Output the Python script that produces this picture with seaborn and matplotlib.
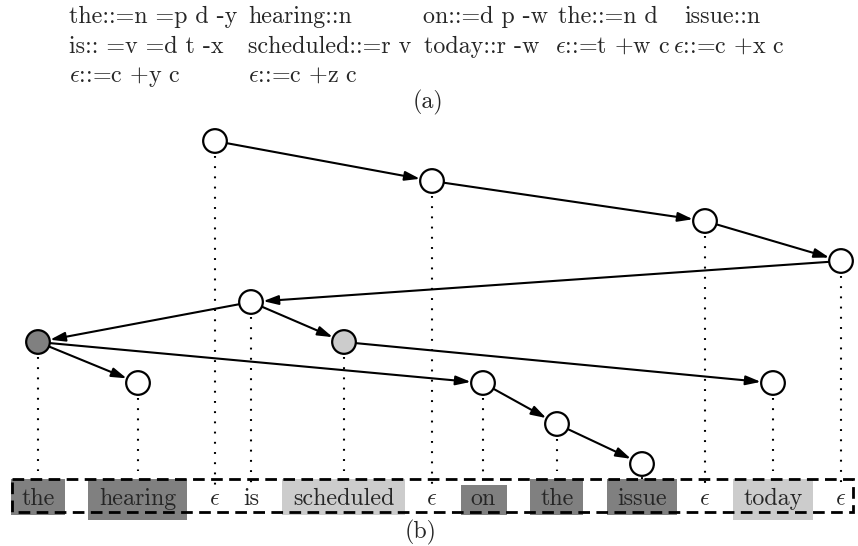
import matplotlib
matplotlib.use("Agg")
import matplotlib.pyplot as plt
from matplotlib.patches import Rectangle
import seaborn as sns
import pandas as pd

sns.set_style("white")
plt.rcParams["font.family"] = ["cmr10", "DejaVu Serif"]
plt.rcParams["mathtext.fontset"] = "cm"
plt.rcParams["axes.unicode_minus"] = False

# ---------------- data ----------------
# lexicon table (a): rows of (text, left x)
lex_row1 = ["the::=n =p d -y", "hearing::n", "on::=d p -w", "the::=n d", "issue::n"]
lex_row2 = ["is:: =v =d t -x", "scheduled::=r v", "today::r -w", r"$\epsilon$::=t +w c", r"$\epsilon$::=c +x c"]
lex_row3 = [r"$\epsilon$::=c +y c", r"$\epsilon$::=c +z c"]
lex_x1 = [69, 248, 423, 558, 684]
lex_x2 = [69, 248, 424, 555, 673]
lex_x3 = [69, 248]

# derivation nodes (b)
node_x = [215, 432, 705, 841, 251, 38, 344, 138, 483, 773, 557, 642]
node_y = [141, 181, 221, 261, 302, 342, 342, 383, 383, 383, 424, 464]
node_fill = ["white", "white", "white", "white", "white", "dark", "light",
             "white", "white", "white", "white", "white"]
edges = [(0, 1), (1, 2), (2, 3), (3, 4), (4, 5), (4, 6), (5, 7), (5, 8),
         (6, 9), (8, 10), (10, 11)]

# words of the sentence, in order; each aligned with a node
words = ["the", "hearing", r"$\epsilon$", "is", "scheduled", r"$\epsilon$",
         "on", "the", "issue", r"$\epsilon$", "today", r"$\epsilon$"]
word_node = [5, 7, 0, 4, 6, 1, 8, 10, 11, 2, 9, 3]
word_shade = ["dark", "dark", None, None, "light", None,
              "dark", "dark", "dark", None, "light", None]
# highlight boxes (left, right, top, bottom) around shaded words
word_box = [(11, 65, 479, 515), (88, 187, 479, 520), None, None,
            (282, 405, 479, 515), None, (461, 507, 485, 515),
            (530, 583, 479, 515), (607, 677, 479, 515), None,
            (733, 813, 479, 520), None]

shade_colors = {"dark": "#808080", "light": "#cccccc", "white": "white"}

# ---------------- figure ----------------
W, H = 858, 546
fig = plt.figure(figsize=(W / 100, H / 100), dpi=100)
ax = fig.add_axes([0, 0, 1, 1])
ax.set_xlim(0, W)
ax.set_ylim(H, 0)
ax.axis("off")

FS = 17.3

# lexicon text
for row, xs, yb in [(lex_row1, lex_x1, 23), (lex_row2, lex_x2, 53), (lex_row3, lex_x3, 82)]:
    for t, x in zip(row, xs):
        ax.text(x, yb, t, fontsize=FS, ha="left", va="baseline")
ax.text(428, 108, "(a)", fontsize=FS, ha="center", va="baseline")
ax.text(421, 538, "(b)", fontsize=FS, ha="center", va="baseline")

# word highlight boxes
for box, shade in zip(word_box, word_shade):
    if box is None:
        continue
    l, r, t, b = box
    ax.add_patch(Rectangle((l, t), r - l, b - t, facecolor=shade_colors[shade],
                           edgecolor="none", zorder=1))

# dashed frame around the sentence
ax.add_patch(Rectangle((12, 479), 841, 33, facecolor="none", edgecolor="black",
                       lw=2.0, linestyle=(0, (4.2, 2.3)), zorder=4))

# words
for w, ni in zip(words, word_node):
    ax.text(node_x[ni], 505, w, fontsize=FS, ha="center", va="baseline", zorder=5)

# dotted drop lines from nodes to words
R = 11.5
for w, ni, box in zip(words, word_node, word_box):
    y_end = box[2] - 8 if box is not None else 486
    ax.plot([node_x[ni], node_x[ni]], [node_y[ni] + R + 3, y_end], color="black",
            lw=1.5, linestyle=(0, (0.9, 4.0)), zorder=2)

# edges
for s, d in edges:
    ax.annotate("", xy=(node_x[d], node_y[d]), xytext=(node_x[s], node_y[s]),
                arrowprops=dict(arrowstyle="-|>,head_length=0.9,head_width=0.28",
                                color="black", lw=1.5, shrinkA=8.5, shrinkB=8.8),
                zorder=3)

# nodes
nodes = pd.DataFrame({"x": node_x, "y": node_y, "fill": node_fill})
sns.scatterplot(data=nodes, x="x", y="y", hue="fill", palette=shade_colors,
                s=290, edgecolor="black", linewidth=1.6, legend=False, ax=ax,
                zorder=6)
ax.set_xlim(0, W)
ax.set_ylim(H, 0)
ax.axis("off")

fig.savefig("out.png", dpi=100)
